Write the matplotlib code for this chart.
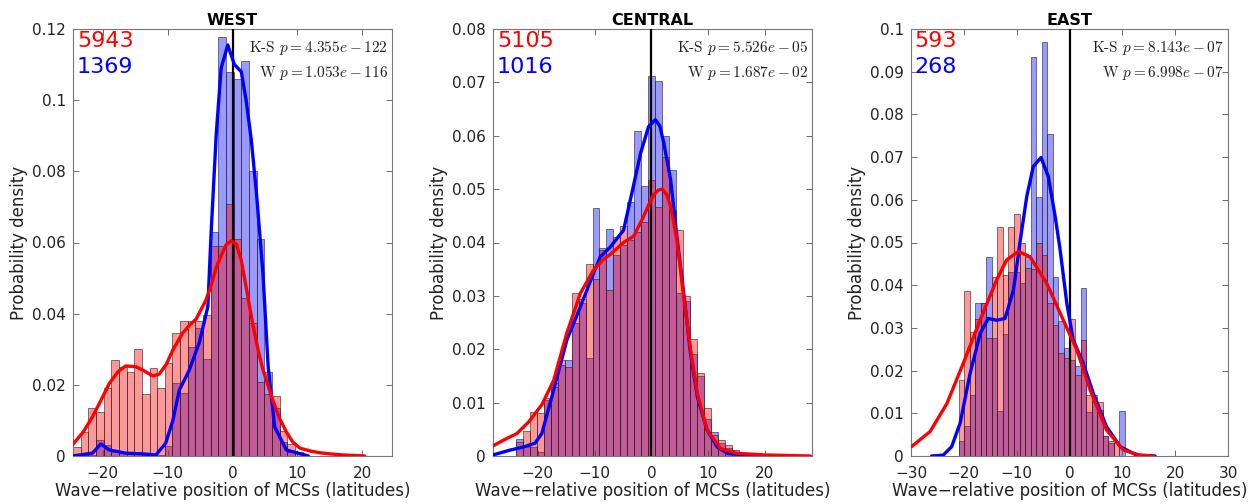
import matplotlib
matplotlib.use("Agg")
import matplotlib.pyplot as plt
import numpy as np

plt.rcParams["font.family"] = ["DejaVu Sans"]
plt.rcParams["mathtext.fontset"] = "cm"
plt.rcParams["axes.formatter.use_mathtext"] = False

# ---------------------------------------------------------------
# histogram heights (probability density), one value per bin
# ---------------------------------------------------------------
west_red = [0.0026, 0.0068, 0.0134, 0.0125, 0.019, 0.027, 0.025, 0.0237, 0.030, 0.0173,
            0.0248, 0.019, 0.026, 0.0345, 0.0378, 0.0378, 0.0378, 0.0396, 0.059, 0.059,
            0.0708, 0.061, 0.0443, 0.0373, 0.0209, 0.0175, 0.017, 0.007, 0.0035, 0.001]
west_blue = [0.0006, 0.0002, 0.0003, 0.0045, 0.003, 0.0012, 0.001, 0.0006, 0.0006, 0.0003,
             0.0003, 0.0004, 0.0028, 0.0206, 0.0176, 0.0307, 0.036, 0.0274, 0.063, 0.1178,
             0.108, 0.106, 0.111, 0.080, 0.061, 0.0237, 0.0134, 0.004, 0.001, 0.0]

central_red = [0.0027, 0.0046, 0.0082, 0.0080, 0.0109, 0.0130, 0.018, 0.0167, 0.0305, 0.0295,
               0.036, 0.0331, 0.0386, 0.0311, 0.041, 0.0431, 0.0405, 0.042, 0.0439, 0.0518,
               0.0467, 0.0561, 0.046, 0.0423, 0.030, 0.022, 0.0155, 0.009, 0.0039, 0.003,
               0.002, 0.0005]
central_blue = [0.0031, 0.0016, 0.0016, 0.0008, 0.0105, 0.0137, 0.017, 0.0179, 0.0249, 0.0286,
                0.0183, 0.0464, 0.039, 0.0425, 0.0377, 0.0395, 0.0475, 0.0609, 0.0505, 0.0712,
                0.0703, 0.060, 0.0536, 0.0305, 0.029, 0.0192, 0.015, 0.007, 0.0045, 0.0025,
                0.0015, 0.0011]

east_red = [0.0178, 0.0387, 0.0291, 0.0322, 0.0358, 0.0276, 0.042, 0.0536, 0.0424, 0.0536,
            0.0567, 0.050, 0.044, 0.0437, 0.050, 0.0471, 0.0358, 0.0307, 0.0242, 0.023,
            0.0322, 0.019, 0.0272, 0.0143, 0.0127, 0.0127, 0.0047, 0.0035, 0.003, 0.0]
east_blue = [0.0036, 0.0070, 0.0143, 0.0358, 0.0358, 0.0467, 0.0276, 0.0106, 0.0285, 0.0432,
             0.0432, 0.0404, 0.0467, 0.0934, 0.0607, 0.0969, 0.0753, 0.042, 0.0315, 0.0252,
             0.0225, 0.021, 0.0393, 0.0104, 0.0143, 0.0108, 0.0047, 0.003, 0.0, 0.0106]

# ---------------------------------------------------------------
# smoothed density curves (x, y)
# ---------------------------------------------------------------
west_red_x = [-24.7, -23.0, -21.6, -20.3, -19.0, -17.7, -16.5, -14.9, -13.5, -12.3, -11.3,
              -10.2, -9.2, -7.7, -6.6, -5.6, -4.1, -3.2, -2.5, -1.7, -1.0, -0.2, 0.6, 1.35,
              2.2, 3.1, 3.9, 4.7, 5.5, 6.2, 7.2, 8.3, 9.3, 10.4, 12.0, 13.5, 15.0, 17.0, 20.4]
west_red_y = [0.0031, 0.0068, 0.011, 0.0156, 0.0204, 0.0236, 0.0253, 0.0251, 0.0238, 0.0225,
              0.023, 0.0258, 0.0298, 0.0345, 0.0368, 0.0385, 0.0438, 0.0485, 0.053, 0.0565,
              0.0593, 0.0605, 0.0595, 0.055, 0.0465, 0.0373, 0.0302, 0.0242, 0.0197, 0.0157,
              0.0108, 0.0068, 0.0039, 0.0022, 0.0014, 0.0009, 0.0006, 0.0003, 0.0]
west_blue_x = [-24.7, -21.6, -20.3, -19.0, -16.5, -13.9, -11.8, -10.3, -9.2, -8.2, -6.7, -5.1,
               -3.8, -3.3, -2.5, -1.75, -0.73, 0.3, 1.35, 2.1, 2.9, 3.7, 4.4, 4.7, 5.5, 6.5,
               8.3, 11.7]
west_blue_y = [0.0, 0.0008, 0.0034, 0.0017, 0.0008, 0.0006, 0.0003, 0.0036, 0.010, 0.0185,
               0.024, 0.032, 0.042, 0.0626, 0.0907, 0.109, 0.1155, 0.110, 0.108, 0.100, 0.0888,
               0.0738, 0.058, 0.0513, 0.0251, 0.0082, 0.0017, 0.0]

central_red_x = [-27.9, -26.0, -23.7, -21.6, -19.3, -17.2, -14.9, -12.5, -10.2, -8.7, -7.2,
                 -4.9, -3.1, -1.4, -0.5, 0.4, 1.2, 1.9, 2.7, 3.4, 4.5, 5.7, 6.9, 8.1, 9.8,
                 12.2, 15.1, 20.0, 28.0]
central_red_y = [0.0019, 0.003, 0.0042, 0.0064, 0.0096, 0.0142, 0.023, 0.0305, 0.0348, 0.0366,
                 0.0378, 0.040, 0.0412, 0.0448, 0.0470, 0.0489, 0.0498, 0.050, 0.0490, 0.0467,
                 0.0405, 0.0298, 0.0199, 0.0117, 0.0049, 0.0014, 0.0005, 0.0002, 0.0]
central_blue_x = [-27.9, -24.9, -22.5, -20.5, -19.3, -17.2, -14.9, -12.5, -10.2, -9.0, -7.2,
                  -4.9, -3.7, -1.9, -0.5, 0.7, 1.5, 2.2, 3.4, 4.5, 5.7, 6.9, 8.1, 9.8, 11.6,
                  13.4, 18.0]
central_blue_y = [0.0002, 0.0011, 0.0017, 0.0024, 0.0042, 0.0124, 0.0217, 0.028, 0.0342, 0.0373,
                  0.0392, 0.0423, 0.048, 0.0567, 0.0617, 0.063, 0.0618, 0.0586, 0.0517, 0.0411,
                  0.0305, 0.0192, 0.0111, 0.0049, 0.0017, 0.0005, 0.0]

east_red_x = [-29.9, -26.4, -23.2, -20.1, -16.9, -13.8, -11.9, -9.7, -7.5, -4.3, -1.2, 1.4,
              3.9, 7.0, 10.2, 13.3, 15.9]
east_red_y = [0.0022, 0.0057, 0.0123, 0.0217, 0.0319, 0.0412, 0.0459, 0.0479, 0.0467, 0.0404,
              0.0319, 0.0248, 0.0155, 0.0061, 0.0014, 0.0002, 0.0]
east_blue_x = [-26.1, -23.9, -22.3, -20.7, -18.8, -16.9, -15.4, -13.8, -12.2, -10.6, -9.4,
               -8.1, -6.85, -5.4, -4.0, -2.7, -1.8, -0.5, 0.7, 2.6, 4.5, 7.0, 9.6, 12.7, 16.2]
east_blue_y = [0.0, 0.0002, 0.0022, 0.0077, 0.0194, 0.0287, 0.0322, 0.0318, 0.0322, 0.0389,
               0.0498, 0.0607, 0.0678, 0.0699, 0.0654, 0.056, 0.0485, 0.0357, 0.0272, 0.0217,
               0.0147, 0.0069, 0.0022, 0.0002, 0.0]

titles = ["WEST", "CENTRAL", "EAST"]
n_red = ["5943", "5105", "593"]
n_blue = ["1369", "1016", "268"]
ks_text = ["4.355e-122", "5.526e-05", "8.143e-07"]
w_text = ["1.053e-116", "1.687e-02", "6.998e-07"]

panels = [
    dict(red=west_red, blue=west_blue, start=-24.6, width=1.18,
         rx=west_red_x, ry=west_red_y, bx=west_blue_x, by=west_blue_y,
         xlim=(-24.6, 24.6), xticks=[-20, -10, 0, 10, 20],
         ylim=(0, 0.12), yticks=np.arange(0, 0.121, 0.02), left=73, width_px=319),
    dict(red=central_red, blue=central_blue, start=-23.9, width=1.23,
         rx=central_red_x, ry=central_red_y, bx=central_blue_x, by=central_blue_y,
         xlim=(-27.9, 28.3), xticks=[-20, -10, 0, 10, 20],
         ylim=(0, 0.08), yticks=np.arange(0, 0.081, 0.01), left=493, width_px=319),
    dict(red=east_red, blue=east_blue, start=-21.0, width=1.05,
         rx=east_red_x, ry=east_red_y, bx=east_blue_x, by=east_blue_y,
         xlim=(-30, 30), xticks=[-30, -20, -10, 0, 10, 20, 30],
         ylim=(0, 0.1), yticks=np.arange(0, 0.101, 0.01), left=911, width_px=317),
]

W, H = 1257, 504
fig = plt.figure(figsize=(W / 100, H / 100), dpi=100)

for i, p in enumerate(panels):
    ax = fig.add_axes([p["left"] / W, 48 / H, p["width_px"] / W, 427 / H])

    nb = len(p["red"])
    lefts = p["start"] + p["width"] * np.arange(nb)
    ax.bar(lefts, p["blue"], width=p["width"], align="edge", color=(0, 0, 1, 0.4),
           edgecolor=(0.15, 0.15, 0.15, 0.7), linewidth=0.6, zorder=1)
    ax.bar(lefts, p["red"], width=p["width"], align="edge", color=(1, 0, 0, 0.4),
           edgecolor=(0.15, 0.15, 0.15, 0.7), linewidth=0.6, zorder=2)

    ax.axvline(0, color="black", linewidth=1.6, zorder=3)
    ax.plot(p["bx"], p["by"], color="blue", linewidth=2.4, zorder=4,
            solid_capstyle="round", solid_joinstyle="round")
    ax.plot(p["rx"], p["ry"], color="red", linewidth=2.4, zorder=5,
            solid_capstyle="round", solid_joinstyle="round")

    ax.set_xlim(*p["xlim"])
    ax.set_ylim(*p["ylim"])
    ax.set_xticks(p["xticks"])
    ax.set_yticks(p["yticks"])
    ax.set_yticklabels(["0"] + ["%g" % v for v in p["yticks"][1:]])
    ax.set_xticklabels([str(t).replace("-", "\u2212") for t in p["xticks"]])
    ax.tick_params(direction="in", top=True, right=True, length=4, width=0.6,
                   color="#555555", labelsize=11, labelcolor="#222222")
    ax.tick_params(axis="x", pad=7)
    ax.tick_params(axis="y", pad=5)
    for s in ax.spines.values():
        s.set_color("#777777")
        s.set_linewidth(0.8)

    ax.set_title(titles[i], fontsize=11.5, fontweight="bold", pad=3)
    ax.set_ylabel("Probability density", fontsize=12, color="#222222", labelpad=3)
    ax.set_xlabel("Wave\u2212relative position of MCSs (latitudes)", fontsize=12,
                  color="#222222", labelpad=1)

    ax.text(0.012, 0.995, n_red[i], transform=ax.transAxes, color="red", fontsize=16,
            ha="left", va="top", zorder=6)
    ax.text(0.012, 0.935, n_blue[i], transform=ax.transAxes, color="blue", fontsize=16,
            ha="left", va="top", zorder=6)

    a, b = ks_text[i].split("e")
    ax.text(0.987, 0.955, r"K-S $p = %s e - %s$" % (a, b.lstrip("-")),
            transform=ax.transAxes, ha="right", va="center", fontsize=11,
            family=["cmr10", "DejaVu Serif"], color="#222222", zorder=6)
    a, b = w_text[i].split("e")
    ax.text(0.987, 0.898, r"W $p = %s e - %s$" % (a, b.lstrip("-")),
            transform=ax.transAxes, ha="right", va="center", fontsize=11,
            family=["cmr10", "DejaVu Serif"], color="#222222", zorder=6)

fig.savefig("out.png", dpi=100)
